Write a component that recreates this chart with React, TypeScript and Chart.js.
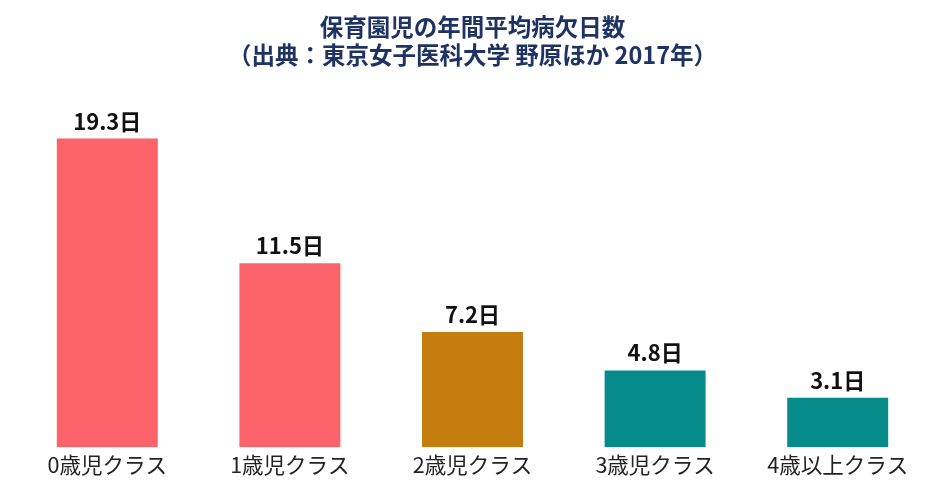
import { useEffect, useRef } from "react";
import { Chart, registerables } from "chart.js";

Chart.register(...registerables);

const categories = ["0歳児クラス", "1歳児クラス", "2歳児クラス", "3歳児クラス", "4歳以上クラス"];
const sickDays = [19.3, 11.5, 7.2, 4.8, 3.1];
const barColors = ["#FC636B", "#FC636B", "#C47D0E", "#068A8A", "#068A8A"];
const titleLines = ["保育園児の年間平均病欠日数", "（出典：東京女子医科大学 野原ほか 2017年）"];

const FONT = "'Noto Sans CJK JP', 'Noto Sans', sans-serif";

// draws "19.3日" above each bar
const valueLabels = {
  id: "valueLabels",
  afterDatasetsDraw: (chart: any) => {
    const { ctx } = chart;
    const meta = chart.getDatasetMeta(0);
    ctx.save();
    ctx.font = `bold 22px ${FONT}`;
    ctx.fillStyle = "#111111";
    ctx.textAlign = "center";
    ctx.textBaseline = "alphabetic";
    meta.data.forEach((bar: any, i: number) => {
      ctx.fillText(`${sickDays[i]}日`, bar.x, bar.y - 9);
    });
    ctx.restore();
  },
};

export default function App() {
  const canvasRef = useRef<HTMLCanvasElement | null>(null);

  useEffect(() => {
    const el = canvasRef.current;
    if (!el) return;
    const c = new Chart(el, {
      type: "bar",
      data: {
        labels: categories,
        datasets: [
          {
            data: sickDays,
            backgroundColor: barColors,
            borderWidth: 0,
            barPercentage: 0.553,
            categoryPercentage: 1,
          },
        ],
      },
      options: {
        responsive: true,
        maintainAspectRatio: false,
        animation: false,
        layout: { padding: { left: 16, right: 15, top: 0, bottom: 10 } },
        plugins: {
          legend: { display: false },
          tooltip: { enabled: false },
          title: {
            display: true,
            text: titleLines,
            color: "#1E3264",
            font: { family: FONT, size: 23.5, weight: "bold", lineHeight: 1.2 },
            padding: { top: 13, bottom: 26 },
          },
        },
        scales: {
          x: {
            grid: { display: false, drawTicks: false },
            border: { display: false },
            ticks: {
              color: "#222222",
              font: { family: FONT, size: 21.5 },
              padding: 5,
            },
          },
          y: { display: false, min: 0, max: 22 },
        },
      },
      plugins: [valueLabels],
    });
    return () => c.destroy();
  }, []);

  return (
    <div style={{ position: "fixed", left: 0, top: 0, width: 944, height: 493, background: "#fff" }}>
      <canvas ref={canvasRef} />
    </div>
  );
}
